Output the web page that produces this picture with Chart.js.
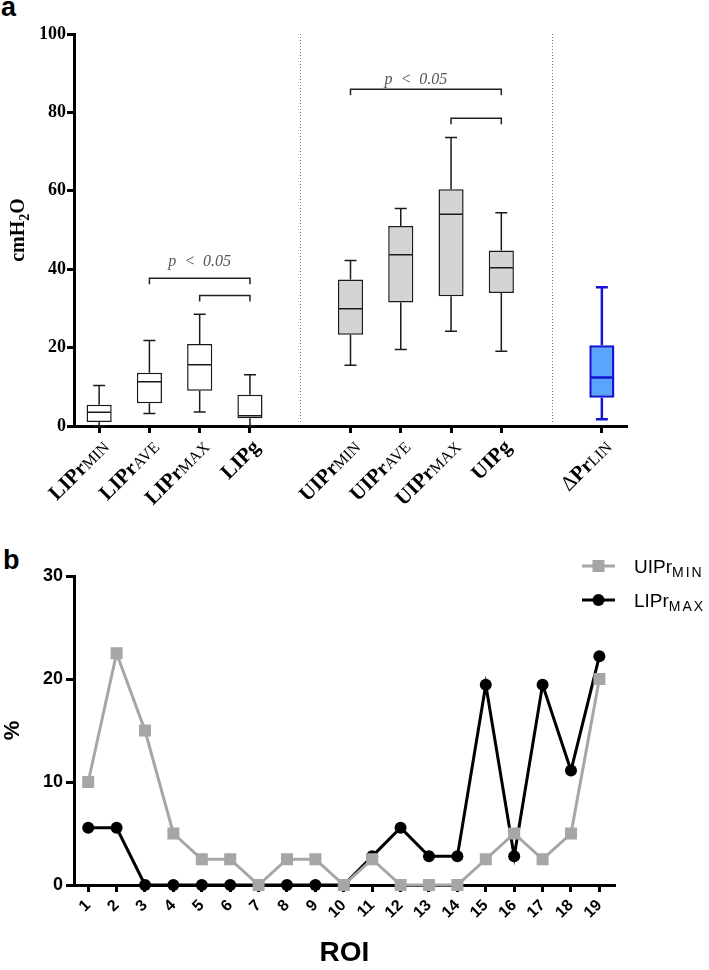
<!DOCTYPE html>
<html>
<head>
<meta charset="utf-8">
<script src="https://cdn.jsdelivr.net/npm/chart.js@4.4.1/dist/chart.umd.min.js"></script>
<style>
    html, body { margin: 0; padding: 0; background: #fff; }
    body { width: 709px; height: 970px; position: relative; overflow: hidden; font-family: "Liberation Sans", Arial, sans-serif; }
    .panel { position: absolute; left: 0; width: 709px; }
    #wrapA { top: 0; height: 520px; }
    #wrapB { top: 520px; height: 450px; }
    .tag { position: absolute; font-weight: bold; font-size: 27px; line-height: 1; color: #000; }
</style>
</head>
<body>
<div class="tag" style="left:1px;top:-6px">a</div>
<div class="tag" style="left:3px;top:547px">b</div>
<div class="panel" id="wrapA"><canvas id="chartA" width="709" height="520" style="width:709px;height:520px"></canvas></div>
<div class="panel" id="wrapB"><canvas id="chartB" width="709" height="450" style="width:709px;height:450px"></canvas></div>

<script>
/* ===== Panel a: box plots (cmH2O) ===== */
var labelPre  = ["", "", "", "", "", "", "", "", "", "", "\u0394"];
var labelMain = ["LIPr", "LIPr", "LIPr", "LIPg", "", "UIPr", "UIPr", "UIPr", "UIPg", "", "Pr"];
var labelSub  = ["MIN", "AVE", "MAX", "", "", "MIN", "AVE", "MAX", "", "", "LIN"];

var whiskerMin = [0,    3.2,  3.6,  0,    null, 15.5, 19.5, 24.2, 19.1, null, 1.7];
var q1         = [1.0,  5.8,  9.0,  2.0,  null, 23.3, 31.5, 33.1, 33.9, null, 7.2];
var median     = [3.5,  11.3, 15.6, 2.6,  null, 29.9, 43.7, 54.0, 40.4, null, 12.4];
var q3         = [5.4,  13.6, 20.9, 8.0,  null, 37.4, 51.0, 60.4, 44.8, null, 20.6];
var whiskerMax = [10.3, 21.8, 28.5, 13.1, null, 42.2, 55.5, 73.6, 54.4, null, 35.4];

var yTicksA = [0, 20, 40, 60, 80, 100];
var dividers = [4, 9];
// significance brackets: from / to category index, height in cmH2O
var bracketFrom = [1, 2, 5, 7];
var bracketTo   = [3, 3, 8, 8];
var bracketY    = [37.7, 33.3, 85.9, 78.5];
var pTextX = [2.0, 6.3];
var pTextY = [41.8, 88.3];

/* ===== Panel b: % per ROI ===== */
var roi     = [1, 2, 3, 4, 5, 6, 7, 8, 9, 10, 11, 12, 13, 14, 15, 16, 17, 18, 19];
var uiprMin = [10, 22.5, 15, 5, 2.5, 2.5, 0, 2.5, 2.5, 0, 2.5, 0, 0, 0, 2.5, 5, 2.5, 5, 20];
var liprMax = [5.56, 5.56, 0, 0, 0, 0, 0, 0, 0, 0, 2.78, 5.56, 2.78, 2.78, 19.44, 2.78, 19.44, 11.11, 22.22];
var yTicksB = [0, 10, 20, 30];

var GREY = "#a6a6a6";
var SERIF = '"Liberation Serif", "Times New Roman", serif';
var SANS = '"Liberation Sans", Arial, sans-serif';

var boxFill = [], boxLine = [], boxLineWidth = [];
for (var i = 0; i < median.length; i++) {
    if (i === 10) { boxFill.push("#5aa5fb"); boxLine.push("#1414d2"); boxLineWidth.push(2.5); }
    else if (i > 4) { boxFill.push("#d4d4d4"); boxLine.push("#1a1a1a"); boxLineWidth.push(1.5); }
    else { boxFill.push("#ffffff"); boxLine.push("#1a1a1a"); boxLineWidth.push(1.5); }
}

/* --- draw a row of text runs with mixed fonts --- */
function drawRuns(ctx, runs, x, y, angle, align) {
    ctx.save();
    ctx.translate(x, y);
    ctx.rotate(angle);
    ctx.textBaseline = "alphabetic";
    ctx.textAlign = "left";
    var total = 0;
    runs.forEach(function (r) {
        ctx.font = r.font;
        ctx.letterSpacing = r.spacing || "0px";
        total += ctx.measureText(r.text).width;
    });
    var cx = align === "right" ? -total : (align === "center" ? -total / 2 : 0);
    runs.forEach(function (r) {
        ctx.font = r.font;
        ctx.letterSpacing = r.spacing || "0px";
        ctx.fillStyle = r.color || "#000";
        ctx.fillText(r.text, cx, r.dy || 0);
        cx += ctx.measureText(r.text).width;
    });
    ctx.restore();
}

/* --- whiskers, caps and medians on top of the floating bars --- */
var boxWhiskers = {
    id: "boxWhiskers",
    afterDatasetsDraw: function (chart) {
        var ctx = chart.ctx, ys = chart.scales.y;
        var bars = chart.getDatasetMeta(0).data;
        ctx.save();
        for (var i = 0; i < bars.length; i++) {
            if (median[i] == null) continue;
            var x = bars[i].x, half = bars[i].width / 2, cap = 6;
            var yMax = ys.getPixelForValue(whiskerMax[i]);
            var yMin = ys.getPixelForValue(whiskerMin[i]);
            var yMed = ys.getPixelForValue(median[i]);
            ctx.strokeStyle = boxLine[i];
            ctx.lineWidth = boxLineWidth[i];
            ctx.beginPath();
            ctx.moveTo(x, ys.getPixelForValue(q3[i])); ctx.lineTo(x, yMax);
            ctx.moveTo(x, ys.getPixelForValue(q1[i])); ctx.lineTo(x, yMin);
            ctx.moveTo(x - cap, yMax); ctx.lineTo(x + cap, yMax);
            ctx.moveTo(x - cap, yMin); ctx.lineTo(x + cap, yMin);
            ctx.moveTo(x - half + 1, yMed); ctx.lineTo(x + half - 1, yMed);
            ctx.stroke();
        }
        ctx.restore();
    }
};

/* --- dividers, brackets, p labels, category labels, axis title --- */
var panelADecor = {
    id: "panelADecor",
    afterDraw: function (chart) {
        var ctx = chart.ctx, xs = chart.scales.x, ys = chart.scales.y;
        var area = chart.chartArea;
        ctx.save();

        // dotted group separators
        ctx.strokeStyle = "#777";
        ctx.lineWidth = 1;
        ctx.setLineDash([1, 2]);
        dividers.forEach(function (d) {
            var x = Math.round(xs.getPixelForValue(d)) + 0.5;
            ctx.beginPath();
            ctx.moveTo(x, ys.getPixelForValue(100));
            ctx.lineTo(x, area.bottom - 2);
            ctx.stroke();
        });
        ctx.setLineDash([]);

        // brackets
        ctx.strokeStyle = "#222";
        ctx.lineWidth = 1.5;
        for (var b = 0; b < bracketY.length; b++) {
            var x1 = xs.getPixelForValue(bracketFrom[b]);
            var x2 = xs.getPixelForValue(bracketTo[b]);
            var y = ys.getPixelForValue(bracketY[b]);
            ctx.beginPath();
            ctx.moveTo(x1, y + 6); ctx.lineTo(x1, y); ctx.lineTo(x2, y); ctx.lineTo(x2, y + 6);
            ctx.stroke();
        }

        // p < 0.05
        ctx.font = "italic 16px " + SERIF;
        ctx.fillStyle = "#555";
        ctx.textAlign = "center";
        ctx.textBaseline = "middle";
        for (var p = 0; p < pTextX.length; p++) {
            ctx.fillText("p  <  0.05", xs.getPixelForValue(pTextX[p]), ys.getPixelForValue(pTextY[p]));
        }
        ctx.restore();

        // rotated category labels
        for (var i = 0; i < labelMain.length; i++) {
            if (!labelMain[i]) continue;
            var tx = xs.getPixelForValue(i);
            var runs = [];
            if (labelPre[i]) runs.push({ text: labelPre[i], font: "21px " + SERIF });
            runs.push({ text: labelMain[i], font: "bold 21px " + SERIF });
            if (labelSub[i]) runs.push({ text: labelSub[i], font: "16px " + SERIF });
            drawRuns(ctx, runs, tx + 11, area.bottom + 22, -Math.PI / 4, "right");
        }

        // y axis title cmH2O
        drawRuns(ctx, [
            { text: "cmH", font: "bold 20px " + SERIF },
            { text: "2", font: "bold 14px " + SERIF, dy: 5 },
            { text: "O", font: "bold 20px " + SERIF }
        ], 24, (area.top + area.bottom) / 2, -Math.PI / 2, "center");
    }
};

var chartA = new Chart(document.getElementById("chartA"), {
    type: "bar",
    data: {
        labels: labelMain.map(function (m, i) { return labelPre[i] + m + labelSub[i]; }),
        datasets: [{
            data: q1.map(function (v, i) { return v == null ? null : [q1[i], q3[i]]; }),
            backgroundColor: boxFill,
            borderColor: boxLine,
            borderWidth: boxLineWidth,
            borderSkipped: false,
            barPercentage: 0.5,
            categoryPercentage: 1
        }]
    },
    options: {
        responsive: false,
        animation: false,
        layout: { padding: { top: 34, right: 82, left: 0, bottom: 0 } },
        plugins: { legend: { display: false }, tooltip: { enabled: false } },
        scales: {
            x: {
                type: "category",
                offset: true,
                afterFit: function (s) { s.height = 94; },
                ticks: { display: false },
                grid: {
                    offset: false,
                    drawOnChartArea: false,
                    drawTicks: true,
                    tickLength: 7,
                    tickWidth: 3,
                    tickColor: function (c) { return labelMain[c.index] ? "#000" : "rgba(0,0,0,0)"; }
                },
                border: { display: true, color: "#000", width: 3 }
            },
            y: {
                min: 0,
                max: 100,
                afterFit: function (s) { s.width = 74; },
                afterBuildTicks: function (s) { s.ticks = yTicksA.map(function (v) { return { value: v }; }); },
                ticks: { color: "#000", padding: 1, font: { family: SERIF, size: 18, weight: "bold" } },
                grid: { drawOnChartArea: false, tickLength: 7, tickWidth: 3, tickColor: "#000" },
                border: { display: true, color: "#000", width: 3 }
            }
        }
    },
    plugins: [boxWhiskers, panelADecor]
});

/* --- legend for panel b --- */
var panelBLegend = {
    id: "panelBLegend",
    afterDraw: function (chart) {
        var ctx = chart.ctx;
        var items = [
            { main: "UIPr", sub: "MIN", color: GREY, shape: "rect", y: 46 },
            { main: "LIPr", sub: "MAX", color: "#000", shape: "circle", y: 80 }
        ];
        ctx.save();
        items.forEach(function (it) {
            ctx.strokeStyle = it.color;
            ctx.fillStyle = it.color;
            ctx.lineWidth = 3;
            ctx.beginPath();
            ctx.moveTo(582, it.y); ctx.lineTo(615, it.y);
            ctx.stroke();
            ctx.beginPath();
            if (it.shape === "rect") ctx.rect(592.5, it.y - 6, 12, 12);
            else ctx.arc(598.5, it.y, 6, 0, Math.PI * 2);
            ctx.fill();
            drawRuns(ctx, [
                { text: it.main, font: "19px " + SANS },
                { text: it.sub, font: "14px " + SANS, dy: 4, spacing: "2px" }
            ], 634, it.y + 7, 0, "left");
        });
        ctx.restore();
    }
};

var chartB = new Chart(document.getElementById("chartB"), {
    type: "line",
    data: {
        datasets: [
            {
                label: "UIPrMIN",
                data: roi.map(function (r, i) { return { x: r, y: uiprMin[i] }; }),
                borderColor: GREY,
                backgroundColor: GREY,
                borderWidth: 3,
                pointStyle: "rect",
                pointRadius: 8.5,
                pointBorderWidth: 0,
                pointBackgroundColor: GREY,
                tension: 0,
                clip: false
            },
            {
                label: "LIPrMAX",
                data: roi.map(function (r, i) { return { x: r, y: liprMax[i] }; }),
                borderColor: "#000",
                backgroundColor: "#000",
                borderWidth: 3,
                pointStyle: "circle",
                pointRadius: 6,
                pointBorderWidth: 0,
                pointBackgroundColor: "#000",
                tension: 0,
                clip: false
            }
        ]
    },
    options: {
        responsive: false,
        animation: false,
        layout: { padding: { top: 56, right: 94, left: 0, bottom: 0 } },
        plugins: { legend: { display: false }, tooltip: { enabled: false } },
        scales: {
            x: {
                type: "linear",
                min: 0.5,
                max: 19.55,
                afterFit: function (s) { s.height = 85; },
                afterBuildTicks: function (s) { s.ticks = roi.map(function (v) { return { value: v }; }); },
                ticks: {
                    color: "#000",
                    autoSkip: false,
                    minRotation: 45,
                    maxRotation: 45,
                    padding: 4,
                    font: { family: SANS, size: 16, weight: "bold" }
                },
                grid: { drawOnChartArea: false, tickLength: 7, tickWidth: 3, tickColor: "#000" },
                border: { display: true, color: "#000", width: 3 },
                title: { display: true, text: "ROI", color: "#000", padding: { top: 0, bottom: 0 }, font: { family: SANS, size: 28, weight: "bold" } }
            },
            y: {
                min: 0,
                max: 30,
                afterFit: function (s) { s.width = 74; },
                afterBuildTicks: function (s) { s.ticks = yTicksB.map(function (v) { return { value: v }; }); },
                ticks: { color: "#000", padding: 3, font: { family: SANS, size: 18, weight: "bold" } },
                grid: { drawOnChartArea: false, tickLength: 8, tickWidth: 3, tickColor: "#000" },
                border: { display: true, color: "#000", width: 3 },
                title: { display: true, text: "%", color: "#000", padding: { top: 0, bottom: 0 }, font: { family: SANS, size: 22, weight: "bold" } }
            }
        }
    },
    plugins: [panelBLegend]
});
</script>
</body>
</html>
